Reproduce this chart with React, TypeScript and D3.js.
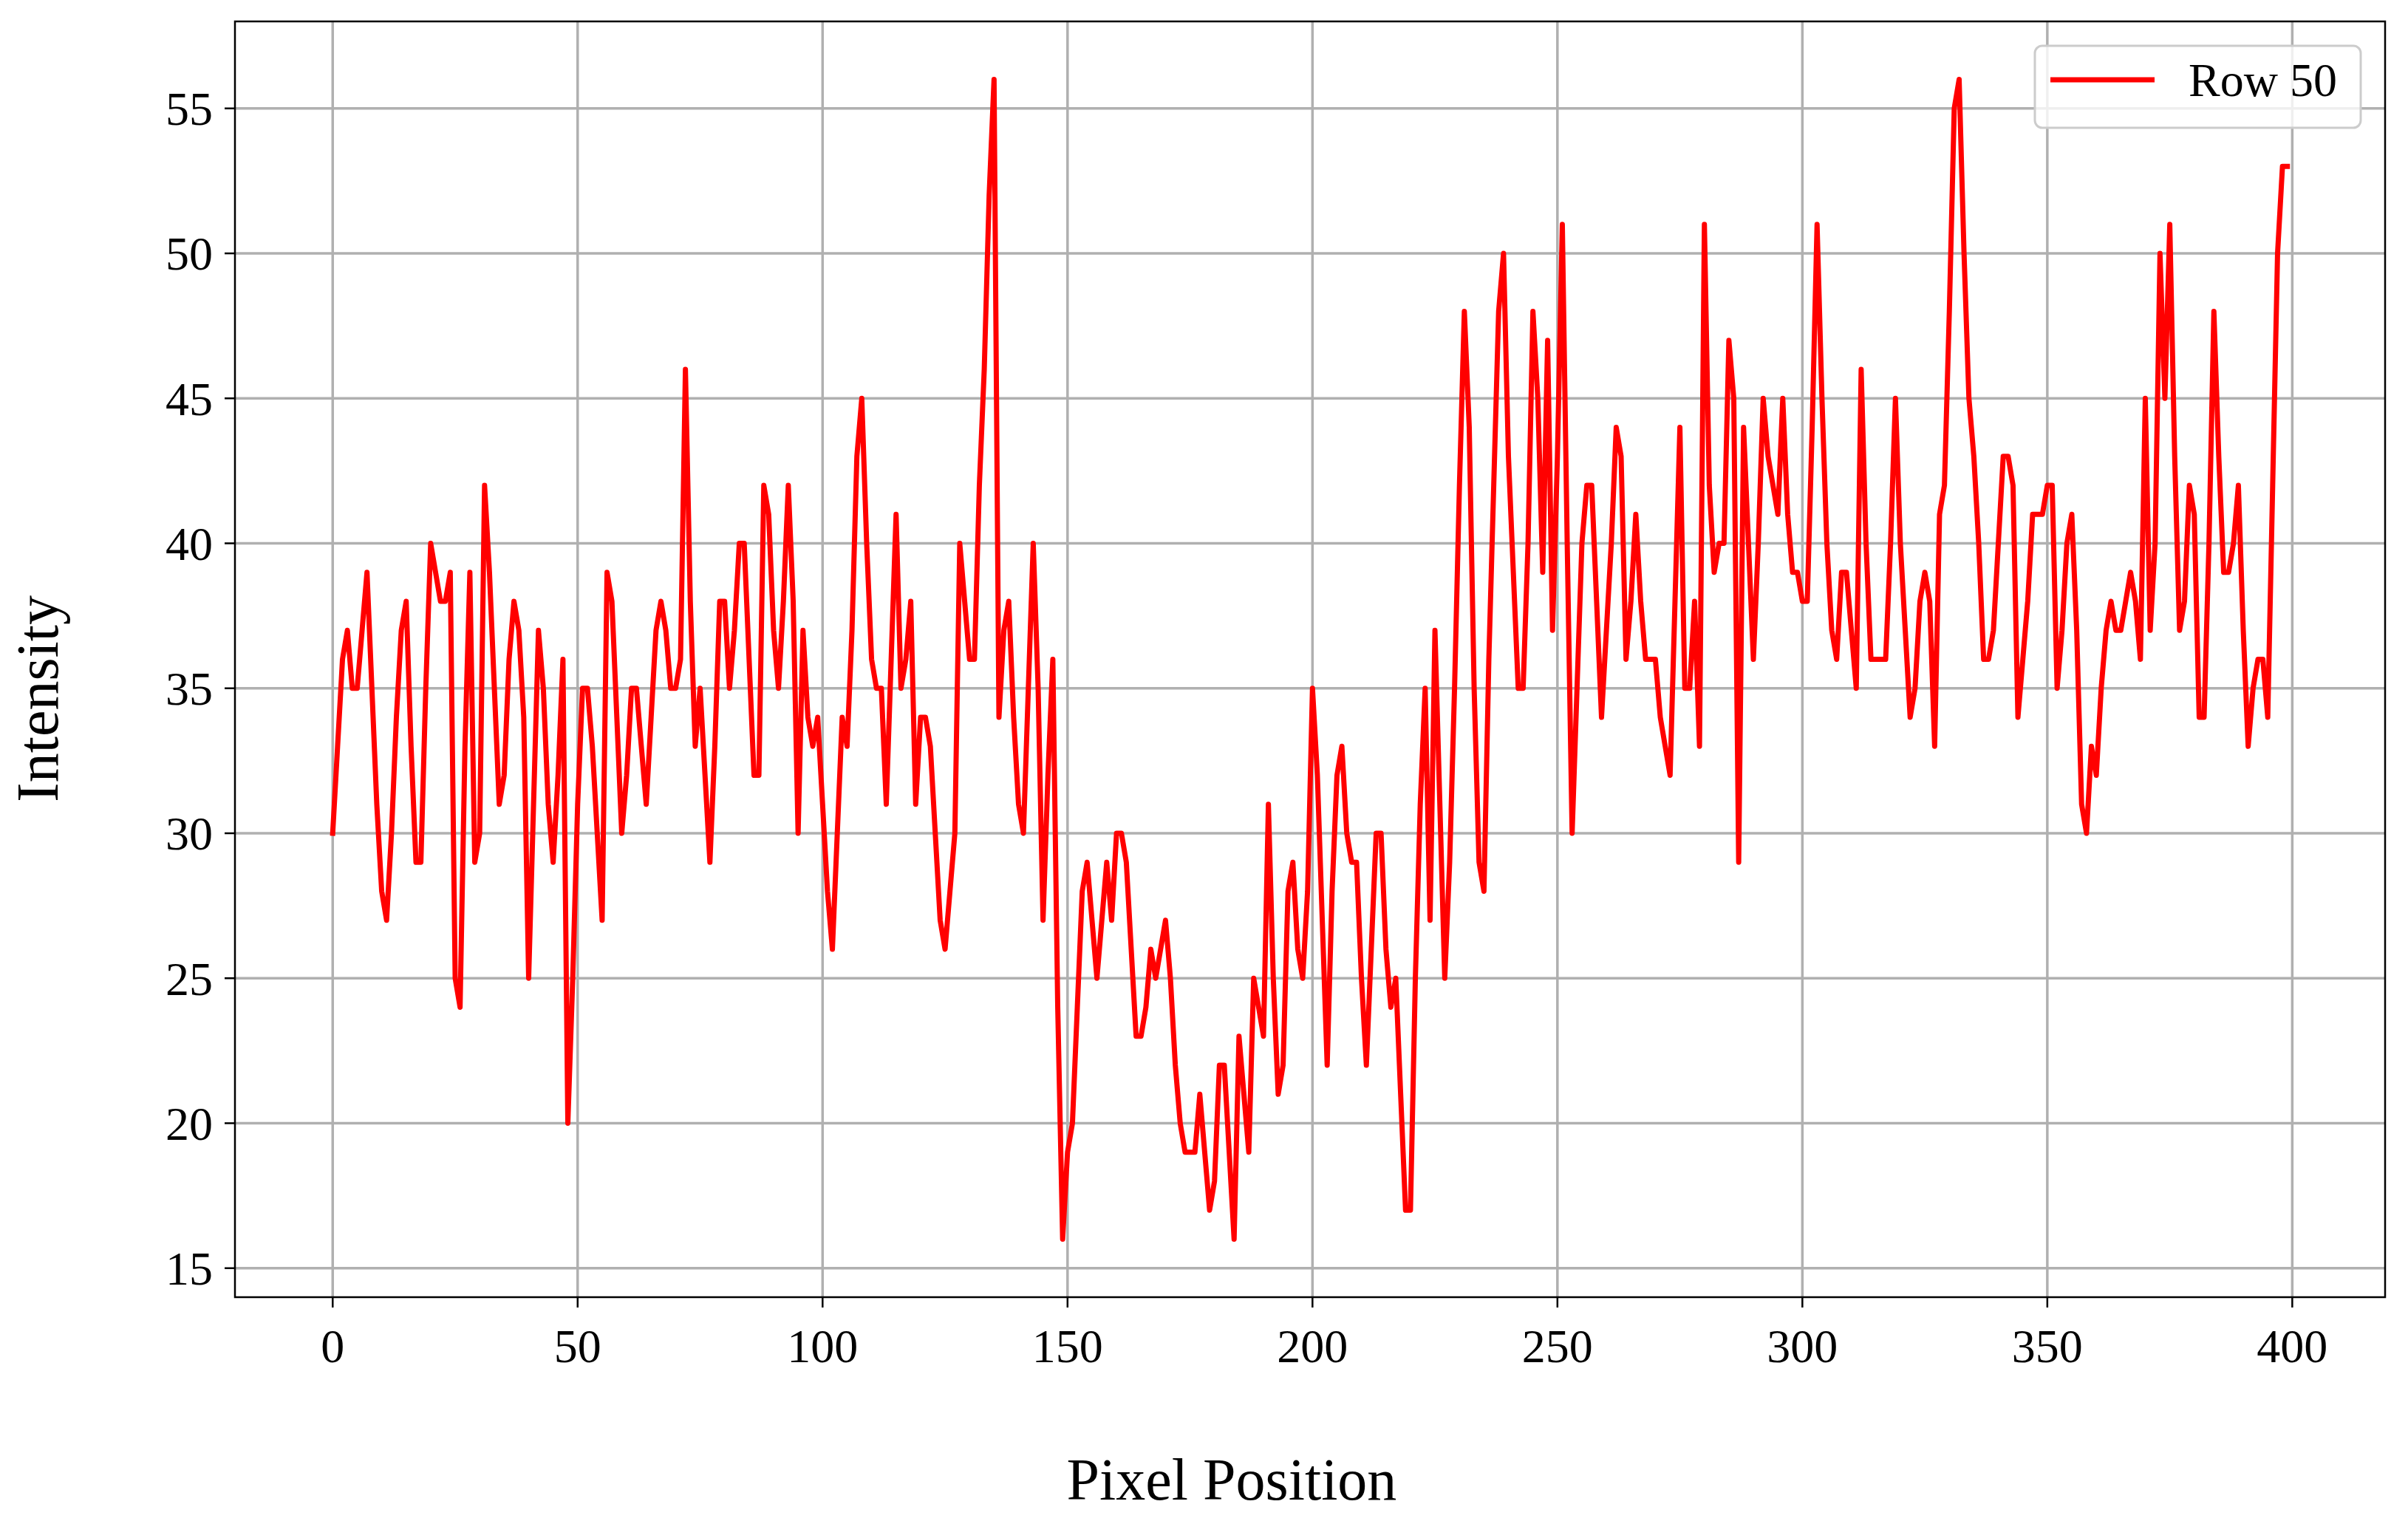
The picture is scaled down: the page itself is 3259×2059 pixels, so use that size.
import React from "react";
import * as d3 from "d3";

const rowValues: number[] = [
  30, 33, 36, 37, 35, 35, 37, 39, 35, 31, 28, 27, 30, 34, 37, 38, 33, 29, 29, 35,
  40, 39, 38, 38, 39, 25, 24, 33, 39, 29, 30, 42, 39, 35, 31, 32, 36, 38, 37, 34,
  25, 31, 37, 35, 31, 29, 32, 36, 20, 25, 31, 35, 35, 33, 30, 27, 39, 38, 34, 30,
  32, 35, 35, 33, 31, 34, 37, 38, 37, 35, 35, 36, 46, 38, 33, 35, 32, 29, 33, 38,
  38, 35, 37, 40, 40, 36, 32, 32, 42, 41, 37, 35, 38, 42, 38, 30, 37, 34, 33, 34,
  31, 28, 26, 30, 34, 33, 37, 43, 45, 40, 36, 35, 35, 31, 36, 41, 35, 36, 38, 31,
  34, 34, 33, 30, 27, 26, 28, 30, 40, 38, 36, 36, 42, 46, 52, 56, 34, 37, 38, 34,
  31, 30, 35, 40, 35, 27, 32, 36, 24, 16, 19, 20, 24, 28, 29, 27, 25, 27, 29, 27,
  30, 30, 29, 26, 23, 23, 24, 26, 25, 26, 27, 25, 22, 20, 19, 19, 19, 21, 19, 17,
  18, 22, 22, 19, 16, 23, 21, 19, 25, 24, 23, 31, 25, 21, 22, 28, 29, 26, 25, 28,
  35, 32, 27, 22, 28, 32, 33, 30, 29, 29, 25, 22, 26, 30, 30, 26, 24, 25, 21, 17,
  17, 25, 31, 35, 27, 37, 31, 25, 29, 35, 42, 48, 44, 35, 29, 28, 36, 42, 48, 50,
  43, 39, 35, 35, 40, 48, 45, 39, 47, 37, 43, 51, 40, 30, 35, 40, 42, 42, 38, 34,
  37, 40, 44, 43, 36, 38, 41, 38, 36, 36, 36, 34, 33, 32, 38, 44, 35, 35, 38, 33,
  51, 42, 39, 40, 40, 47, 45, 29, 44, 40, 36, 40, 45, 43, 42, 41, 45, 41, 39, 39,
  38, 38, 44, 51, 45, 40, 37, 36, 39, 39, 37, 35, 46, 40, 36, 36, 36, 36, 40, 45,
  40, 37, 34, 35, 38, 39, 38, 33, 41, 42, 48, 55, 56, 50, 45, 43, 40, 36, 36, 37,
  40, 43, 43, 42, 34, 36, 38, 41, 41, 41, 42, 42, 35, 37, 40, 41, 37, 31, 30, 33,
  32, 35, 37, 38, 37, 37, 38, 39, 38, 36, 45, 37, 40, 50, 45, 51, 43, 37, 38, 42,
  41, 34, 34, 40, 48, 43, 39, 39, 40, 42, 37, 33, 35, 36, 36, 34, 42, 50, 53, 53,
];

const xTicks: number[] = [0, 50, 100, 150, 200, 250, 300, 350, 400];
const yTicks: number[] = [15, 20, 25, 30, 35, 40, 45, 50, 55];
const seriesName = "Row 50";
const xLabel = "Pixel Position";
const yLabel = "Intensity";

export default function App() {
  const W = 3259;
  const H = 2059;
  const left = 318;
  const right = 3228;
  const top = 29;
  const bottom = 1756;
  const n = rowValues.length;
  const xm = 0.05 * (n - 1);
  const x = d3.scaleLinear().domain([-xm, n - 1 + xm]).range([left, right]);
  const yMin = d3.min(rowValues) as number;
  const yMax = d3.max(rowValues) as number;
  const ym = 0.05 * (yMax - yMin);
  const y = d3.scaleLinear().domain([yMin - ym, yMax + ym]).range([bottom, top]);
  const line = d3
    .line<number>()
    .x((_, i) => x(i))
    .y((d) => y(d));

  const font = "'Liberation Serif', 'Times New Roman', serif";
  const gridColor = "#b0b0b0";
  const tickLen = 14;

  return (
    <svg
      width={W}
      height={H}
      style={{ position: "absolute", left: 0, top: 0, background: "#fff" }}
      fontFamily={font}
    >
      <rect x={0} y={0} width={W} height={H} fill="#fff" />
      {xTicks.map((t) => (
        <line key={"gx" + t} x1={x(t)} x2={x(t)} y1={top} y2={bottom} stroke={gridColor} strokeWidth={3.5} />
      ))}
      {yTicks.map((t) => (
        <line key={"gy" + t} x1={left} x2={right} y1={y(t)} y2={y(t)} stroke={gridColor} strokeWidth={3.5} />
      ))}
      <path
        d={line(rowValues) || ""}
        fill="none"
        stroke="#ff0000"
        strokeWidth={7}
        strokeLinejoin="round"
        strokeLinecap="square"
      />
      <rect x={left} y={top} width={right - left} height={bottom - top} fill="none" stroke="#000" strokeWidth={2.5} />
      {xTicks.map((t) => (
        <g key={"tx" + t}>
          <line x1={x(t)} x2={x(t)} y1={bottom} y2={bottom + tickLen} stroke="#000" strokeWidth={2.5} />
          <text x={x(t)} y={bottom + 88} textAnchor="middle" fontSize={64} fill="#000">
            {t}
          </text>
        </g>
      ))}
      {yTicks.map((t) => (
        <g key={"ty" + t}>
          <line x1={left - tickLen} x2={left} y1={y(t)} y2={y(t)} stroke="#000" strokeWidth={2.5} />
          <text x={left - 30} y={y(t)} dy="0.35em" textAnchor="end" fontSize={64} fill="#000">
            {t}
          </text>
        </g>
      ))}
      <text x={1667} y={2030} textAnchor="middle" fontSize={80} fill="#000">
        {xLabel}
      </text>
      <text
        transform={`translate(78, 946) rotate(-90)`}
        textAnchor="middle"
        fontSize={80}
        fill="#000"
      >
        {yLabel}
      </text>
      <g>
        <rect x={2754} y={62} width={441} height={111} rx={10} ry={10} fill="#fff" fillOpacity={0.8} stroke="#cccccc" strokeWidth={3} />
        <line x1={2775} x2={2916} y1={108} y2={108} stroke="#ff0000" strokeWidth={7} />
        <text x={2962} y={108} dy="0.35em" fontSize={64} fill="#000">
          {seriesName}
        </text>
      </g>
    </svg>
  );
}
